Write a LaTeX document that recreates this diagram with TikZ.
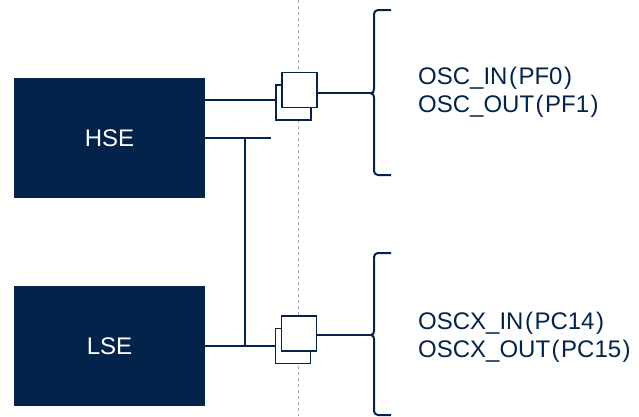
\documentclass[tikz,border=0pt]{standalone}
\usepackage{fontspec}
\setmainfont{Liberation Sans}
% slightly spaced brackets around the port names
\newcommand{\lp}{\hspace{1.5pt}(\hspace{1.5pt}}
\newcommand{\rp}{\hspace{1.5pt})}
\definecolor{navy}{RGB}{3,35,75}
\definecolor{guide}{RGB}{168,176,192}
\begin{document}
\begin{tikzpicture}[x=1pt,y=-1pt,
  block/.style={fill=navy,draw=none,minimum width=191pt,minimum height=120pt,
    inner sep=0pt,outer sep=0pt,text=white,font=\fontsize{24}{28}\selectfont},
  pinbox/.style={draw=navy,fill=white,line width=1.3pt,minimum width=35pt,
    minimum height=35pt,inner sep=0pt,outer sep=0pt},
  wire/.style={draw=navy,line width=2pt},
  bracepath/.style={draw=navy,line width=2pt,line join=round},
  pinlabel/.style={text=navy,anchor=base west,inner sep=0pt,
    font=\fontsize{24}{28}\selectfont}]
\useasboundingbox (0,0) rectangle (639,416);
\fill[white] (0,0) rectangle (639,416);

% package boundary
\draw[guide,line width=1pt,dash pattern=on 3pt off 3pt] (298,0) -- (298,416);

% oscillator blocks
\node[block] (hse) at (109.5,138) {HSE};
\node[block] (lse) at (109.5,346) {LSE};

% pin pads
\node[pinbox] (hpb) at (293.5,102.5) {};
\node[pinbox] (hpf) at (299.5,90.3) {};
\node[pinbox] (lpb) at (293,346) {};
\node[pinbox] (lpf) at (299,333.5) {};

% braces
\coordinate (htip) at (371,93.3);
\coordinate (ltip) at (371,335);
\draw[bracepath] (391,10) -- (378,10) to[out=180,in=90] (374,14) -- (374,89)
  to[out=-90,in=0] (htip) to[out=0,in=90] (374,97.5) -- (374,171)
  to[out=-90,in=180] (378,175) -- (391,175);
\draw[bracepath] (391,253) -- (378,253) to[out=180,in=90] (374,257) -- (374,331)
  to[out=-90,in=0] (ltip) to[out=0,in=90] (374,339) -- (374,411)
  to[out=-90,in=180] (378,415) -- (391,415);

% wiring
\draw[wire] (hse.east |- 0,100) -- (hpb.west |- 0,100);
\draw[wire] (hpf.east |- htip) -- (htip);
\coordinate (tap) at (270.7,138.3);
\draw[wire] (hse.east |- tap) -- (tap);
\draw[wire] (245,138.3) -- (245,346);
\draw[wire] (lse.east |- lpb.west) -- (lpb.west);
\draw[wire] (lpf.east |- ltip) -- (ltip);

% pin names
\node[pinlabel] (hin)  at (418,84)  {OSC\_IN\lp PF0\rp};
\node[pinlabel] (hout) at (418,112) {OSC\_OUT\lp PF1\rp};
\node[pinlabel] (lin)  at (418,329) {OSCX\_IN\lp PC14\rp};
\node[pinlabel] (lout) at (418,357) {OSCX\_OUT\lp PC15\rp};
\end{tikzpicture}
\end{document}
